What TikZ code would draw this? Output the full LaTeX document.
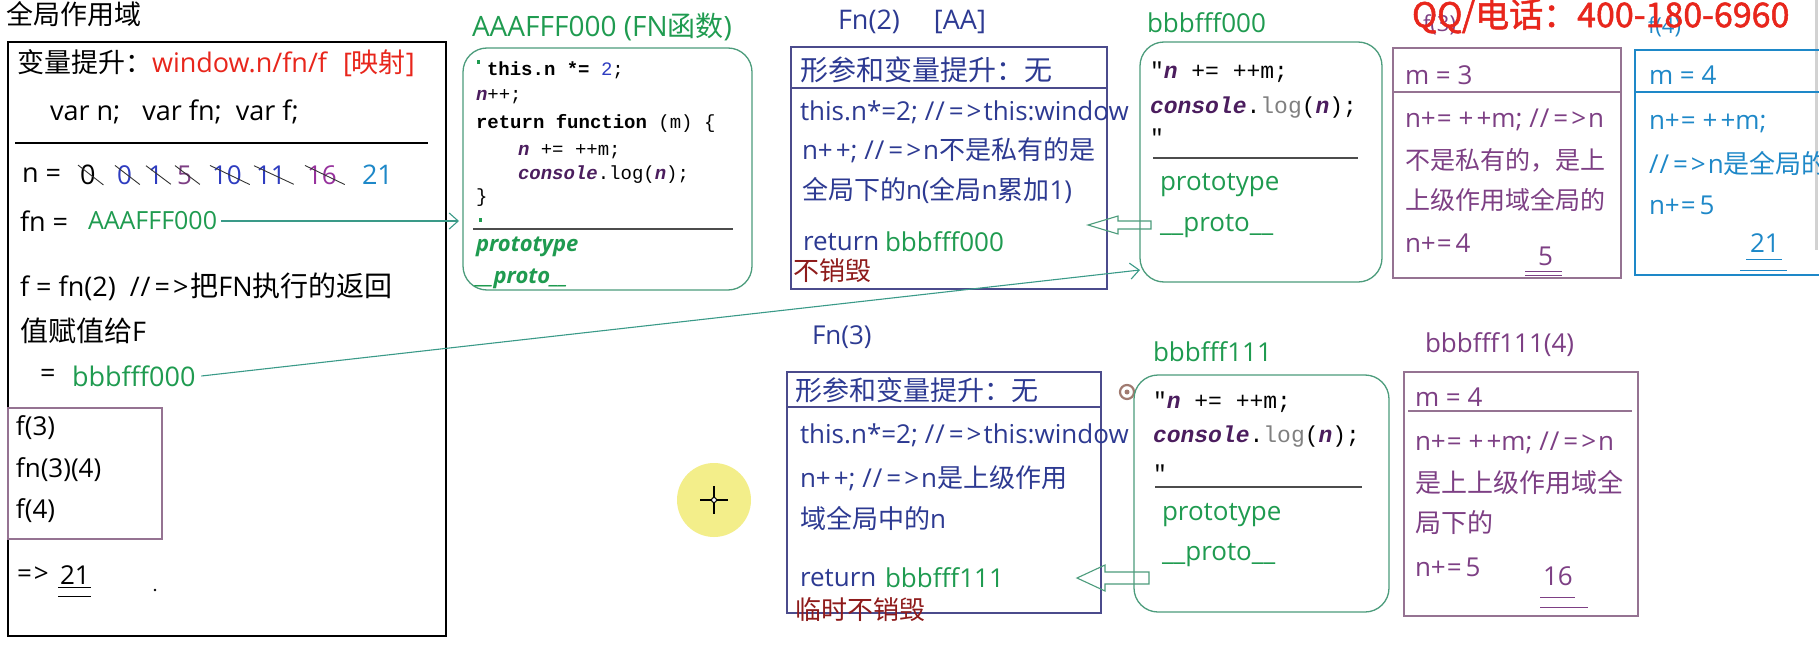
\documentclass[tikz,border=0pt]{standalone}
\usepackage{fontspec}
\setmainfont{Open Sans}
\newfontfamily\zh{Noto Sans CJK SC}
\newfontfamily\zhb{Noto Sans CJK SC}[FakeBold=1.5]
\newfontfamily\cm{Liberation Mono}
\usetikzlibrary{arrows.meta,calc}
\newcommand\fsz[1]{\fontsize{#1}{#1}\selectfont}
\newcommand\ar{/\kern1pt/\kern4pt=\kern3pt>\kern2pt}
\newcommand\pp{+\kern3pt+}
\newcommand\pe{+\kern1pt=\kern7pt+\kern3pt+}
\definecolor{gtxt}{HTML}{1F9B50}
\definecolor{gbox}{HTML}{4C9C7C}
\definecolor{navy}{HTML}{2D3A92}
\definecolor{nbox}{HTML}{4B4B8C}
\definecolor{purp}{HTML}{7D3F84}
\definecolor{pbox}{HTML}{957392}
\definecolor{blu}{HTML}{1E88C8}
\definecolor{dred}{HTML}{8E1B1B}
\definecolor{wred}{HTML}{E8261C}
\definecolor{codep}{HTML}{4B1D5E}
\definecolor{numb}{HTML}{2E3CC0}
\definecolor{connc}{HTML}{3A9A88}
\definecolor{tgt}{HTML}{A07A70}
\definecolor{cursor}{HTML}{F3EE8A}
\tikzset{
 tx/.style={anchor=west, inner sep=0pt, outer sep=0pt},
 body/.style={tx, font=\fsz{26}},
 box/.style={draw, inner sep=0pt, outer sep=0pt, line width=1.3pt, anchor=north west},
 gbx/.style={box, draw=gbox, rounded corners=24pt},
 cd/.style={tx, font=\cm\fsz{23}},
 cda/.style={tx, font=\cm\fsz{19}},
 link/.style={draw=connc, line width=1.1pt, -{Straight Barb[length=9pt,width=16pt]}},
 hollow/.style={draw=gbox, line width=1.1pt},
 strike/.style={line width=0.9pt, black!80},
 uline/.style={line width=1pt},
}
\newcommand\cit[1]{\textcolor{codep}{\bfseries\itshape #1}}
\begin{document}
\begin{tikzpicture}[x=1pt,y=-1pt]
\useasboundingbox (0,0) rectangle (1819,650);
\fill[white] (0,0) rectangle (1819,650);
% cursor highlight
\fill[cursor] (714,500) circle (37);
\draw[line width=1.6pt] (700,500) -- (728,500) (714,486) -- (714,514);
\draw[line width=1pt, fill=white] (714,500) circle (2.5);
% scrollbar
\draw[gray!35, line width=3pt] (1816,0) -- (1816,250);

% ================= global scope
\node[tx, font=\zh\fsz{27}] (gtitle) at (6,14) {全局作用域};
\node[box, line width=1.6pt, minimum width=438, minimum height=594] (gb) at (8,42) {};
\node[body, font=\fsz{27}] (hoist) at (17,63) {{\zh 变量提升：}\textcolor{wred}{window.n/fn/f\hspace{16pt}[{\zh 映射}]}};
\node[body, font=\fsz{27}] (vars) at (50,112) {var n;\hspace{22pt}var fn;\hspace{14pt}var f;};
\draw[line width=1.2pt] (15,143) -- (428,143);
\node[body, font=\fsz{27}] (nlab) at (22,175) {n =};
\node[body, font=\fsz{27}] (v0) at (80,175) {0};
\node[body, text=numb] (v1) at (117,175) {0};
\node[body, text=numb] (v2) at (148,175) {1};
\node[body, text=purp] (v3) at (177,175) {5};
\node[body, text=numb] (v4) at (212,175) {10};
\node[body, text=numb] (v5) at (256,175) {11};
\node[body, text=purp!80!magenta] (v6) at (307,175) {16};
\node[body, font=\fsz{27}, text=blu] (v7) at (362,175) {21};
\foreach \i in {0,...,6} {\draw[strike] ([xshift=-2pt]v\i.north west) -- ([xshift=8pt]v\i.south east);}
\node[body, font=\fsz{27}] (fnlab) at (20,221) {fn =};
\node[body, font=\fsz{25}, text=gtxt] (fnval) at (88,221) {AAAFFF000};
\node[body, font=\fsz{27}] (fcall) at (20,287) {f = fn(2)\hspace{14pt}\ar{\zh\fsz{28}把}FN{\zh\fsz{28}执行的返回}};
\node[body, font=\fsz{27}] (fcall2) at (20,331) {{\zh\fsz{28}值赋值给}F};
\node[body, font=\fsz{27}] (eqs) at (40,376) {=};
\node[body, font=\fsz{27}, text=gtxt] (f0val) at (72,376) {bbbfff000};
\node[box, draw=pbox, minimum width=154, minimum height=131] (calls) at (8,408) {};
\node[body] (c1) at (16,428) {f(3)};
\node[body] (c2) at (16,470) {fn(3)(4)};
\node[body] (c3) at (16,511) {f(4)};
\node[body] (arr) at (17,575) {=\kern2pt>};
\node[body] (r21) at (60,575) {21};
\draw[uline] ([shift={(-2pt,-3pt)}]r21.south west) -- ([shift={(1pt,-3pt)}]r21.south east);
\draw[uline] ([shift={(-2pt,-12pt)}]r21.south west) -- ([shift={(1pt,-12pt)}]r21.south east);
\fill (155,590) circle (1.3);

% ================= AAAFFF000
\node[tx, font=\fsz{28}, text=gtxt] (atitle) at (472,27) {AAAFFF000 (FN{\zh 函数})};
\node[gbx, minimum width=289, minimum height=242] (abox) at (463,48) {};
\node[cda] (a1) at (487,70) {{\bfseries this.n *=} \textcolor{numb}{2};};
\node[cda] (a2) at (476,97) {\cit{n}++;};
\node[cda] (a3) at (476,123) {{\bfseries return function} (m) \{};
\node[cda] (a4) at (518,152) {\cit{n} += ++m;};
\node[cda] (a5) at (518,175) {\cit{console}.log(\cit{n});};
\node[cda] (a6) at (476,198) {\}};
\fill[gtxt] (477,60) rectangle (480,64);
\fill[gtxt] (479,218) rectangle (482,222);
\draw[line width=1.1pt, black!70] (473,229) -- (733,229);
\node[tx, font=\bfseries\itshape\fsz{22}, text=gtxt] (aproto) at (476,247) {prototype};
\node[tx, font=\bfseries\itshape\fsz{22}, text=gtxt] (aproto2) at (476,279) {\_\_proto\_\_};
\draw[link] ([xshift=4pt]fnval.east) -- ([xshift=-4pt]fnval.east -| abox.west);

% ================= Fn(2)
\node[tx, font=\fsz{27}, text=navy] (f2t) at (838,22) {Fn(2)\hspace{34pt}[AA]};
\node[box, draw=nbox, minimum width=316, minimum height=242] (f2b) at (791,47) {};
\node[tx, font=\zh\fsz{28}, text=navy] (f2h) at (800,70) {形参和变量提升：无};
\draw[nbox, line width=1.3pt] (f2b.west |- 0,88) -- (f2b.east |- 0,88);
\node[body, text=navy] (f2l1) at (800,112) {this.n*=2; \ar this:window};
\node[body, text=navy] (f2l2) at (802,150) {n\pp; \ar n{\zh 不是私有的是}};
\node[body, text=navy] (f2l3) at (802,190) {{\zh 全局下的}n({\zh 全局}n{\zh 累加}1)};
\node[body, text=navy] (f2l4) at (803,242) {return};
\node[body, text=gtxt] (f2r) at (885,242) {bbbfff000};
\node[tx, font=\zh\fsz{26}, text=dred] (f2k) at (793,271) {不销毁};

% ================= bbbfff000
\node[tx, font=\fsz{26}, text=gtxt] (b0t) at (1147,23) {bbbfff000};
\node[gbx, minimum width=242, minimum height=240] (b0) at (1140,42) {};
\node[cd] (b0l1) at (1150,72) {"\cit{n} += ++m;};
\node[cd] (b0l2) at (1150,108) {\cit{console}.\textcolor{black!50}{log}(\cit{n});};
\node[cd] (b0l3) at (1150,137) {"};
\draw[line width=1.1pt, black!70] (1153,158) -- (1358,158);
\node[body, text=gtxt] (b0p) at (1160,185) {prototype};
\node[body, text=gtxt] (b0q) at (1160,226) {\_\_proto\_\_};
\coordinate (ha1) at (1088,225);
\draw[hollow] (ha1) -- ++(30,-9) -- ++(0,5) -- ++(33,0) -- ++(0,8) -- ++(-33,0) -- ++(0,5) -- cycle;
\draw[link] ([xshift=6pt]f0val.east) -- ([yshift=12pt]b0.south west);

% ================= f(3)
\node[tx, font=\fsz{22}, text=purp] (f3t) at (1423,25) {f(3)};
\node[box, draw=pbox, minimum width=228, minimum height=230] (f3b) at (1393,48) {};
\node[body, text=purp] (f3m) at (1405,75) {m = 3};
\draw[pbox, line width=1.3pt] (f3b.west |- 0,92) -- (f3b.east |- 0,92);
\node[body, text=purp] (f3a) at (1405,120) {n\pe m; \ar n};
\node[tx, font=\zh\fsz{25}, text=purp] (f3c) at (1405,160) {不是私有的，是上};
\node[tx, font=\zh\fsz{25}, text=purp] (f3d) at (1405,200) {上级作用域全局的};
\node[body, text=purp] (f3e) at (1405,243) {n+\kern1pt=\kern4pt4};
\node[body, text=purp] (f3v) at (1538,256) {5};
\draw[uline, purp] (1525,271) -- (1562,271) (1525,275) -- (1562,275);

% ================= f(4)
\node[tx, font=\fsz{22}, text=blu] (f4t) at (1648,27) {f(4)};
\node[box, draw=blu, minimum width=200, minimum height=225] (f4b) at (1635,50) {};
\node[body, text=blu] (f4m) at (1649,75) {m = 4};
\draw[blu, line width=1.3pt] (f4b.west |- 0,92) -- (f4b.east |- 0,92);
\node[body, text=blu] (f4a) at (1649,123) {n\pe m;};
\node[body, text=blu] (f4c) at (1649,163) {\ar n{\zh 是全局的}};
\node[body, text=blu] (f4d) at (1649,205) {n+\kern1pt=\kern4pt5};
\node[body, text=blu] (f4v) at (1750,243) {21};
\draw[uline, blu] (1746,259) -- (1782,259) (1740,270) -- (1787,270);

% watermark
\node[tx, font=\zhb\fsz{34}, text=wred] (wm) at (1412,16) {QQ/电话：400-180-6960};

% ================= Fn(3)
\node[tx, font=\fsz{26}, text=navy] (f3nt) at (812,337) {Fn(3)};
\node[box, draw=nbox, minimum width=314, minimum height=241] (g3b) at (787,372) {};
\node[tx, font=\zh\fsz{27}, text=navy] (g3h) at (795,390) {形参和变量提升：无};
\draw[nbox, line width=1.3pt] (g3b.west |- 0,407) -- (g3b.east |- 0,407);
\node[body, text=navy] (g3a) at (800,435) {this.n*=2; \ar this:window};
\node[body, text=navy] (g3c) at (800,478) {n\pp; \ar n{\zh 是上级作用}};
\node[body, text=navy] (g3d) at (800,518) {{\zh 域全局中的}n};
\node[body, text=navy] (g3e) at (800,578) {return};
\node[body, text=gtxt] (g3r) at (885,578) {bbbfff111};
\node[tx, font=\zh\fsz{26}, text=dred] (g3k) at (795,610) {临时不销毁};
\coordinate (ha2) at (1077,578);
\draw[hollow] (ha2) -- ++(28,-13) -- ++(0,7) -- ++(44,0) -- ++(0,12) -- ++(-44,0) -- ++(0,7) -- cycle;
\draw[tgt, line width=2.2pt] (1127,392) circle (7);
\fill[tgt] (1127,392) circle (2.5);

% ================= bbbfff111
\node[tx, font=\fsz{26}, text=gtxt] (b1t) at (1153,352) {bbbfff111};
\node[gbx, minimum width=255, minimum height=237] (b1) at (1134,375) {};
\node[cd] (b1l1) at (1153,402) {"\cit{n} += ++m;};
\node[cd] (b1l2) at (1153,437) {\cit{console}.\textcolor{black!50}{log}(\cit{n});};
\node[cd] (b1l3) at (1153,473) {"};
\draw[line width=1.1pt, black!70] (1155,487) -- (1362,487);
\node[body, text=gtxt] (b1p) at (1162,515) {prototype};
\node[body, text=gtxt] (b1q) at (1162,555) {\_\_proto\_\_};

% ================= bbbfff111(4)
\node[tx, font=\fsz{26}, text=purp] (h4t) at (1425,345) {bbbfff111(4)};
\node[box, draw=pbox, minimum width=234, minimum height=244] (h4b) at (1404,372) {};
\node[body, text=purp] (h4m) at (1415,397) {m = 4};
\draw[pbox, line width=1.3pt] (1408,411) -- (1632,411);
\node[body, text=purp] (h4a) at (1415,443) {n\pe m; \ar n};
\node[tx, font=\zh\fsz{26}, text=purp] (h4c) at (1415,483) {是上上级作用域全};
\node[tx, font=\zh\fsz{26}, text=purp] (h4d) at (1415,523) {局下的};
\node[body, text=purp] (h4e) at (1415,567) {n+\kern1pt=\kern4pt5};
\node[body, text=purp] (h4v) at (1543,576) {16};
\draw[uline, purp] (1540,597) -- (1575,597) (1540,607) -- (1588,607);
\end{tikzpicture}
\end{document}
